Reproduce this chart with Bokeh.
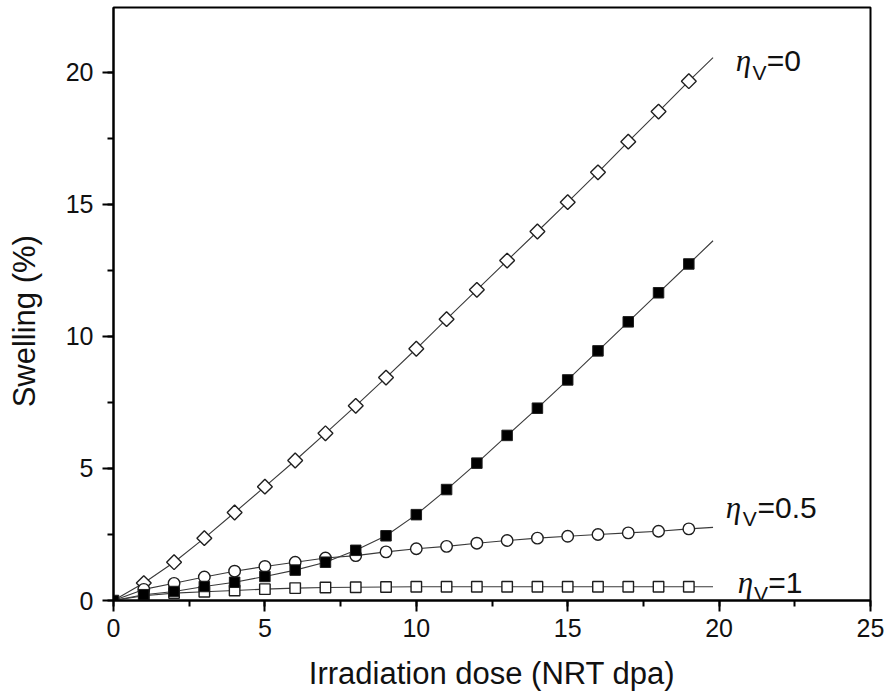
import math
from bokeh.plotting import figure
from bokeh.models import Range1d, SingleIntervalTicker, Label
from bokeh.embed import file_html
from bokeh.resources import INLINE

# ---- data ----
dose = [0, 1, 2, 3, 4, 5, 6, 7, 8, 9, 10, 11, 12, 13, 14, 15, 16, 17, 18, 19]
swell_eta0 = [0, 0.66, 1.45, 2.36, 3.33, 4.31, 5.30, 6.33, 7.37, 8.44, 9.53,
              10.65, 11.76, 12.87, 13.97, 15.08, 16.21, 17.37, 18.51, 19.66]
swell_filled = [0, 0.22, 0.34, 0.53, 0.69, 0.91, 1.15, 1.45, 1.90, 2.45, 3.25,
                4.20, 5.20, 6.25, 7.28, 8.35, 9.45, 10.55, 11.65, 12.74]
swell_eta05 = [0, 0.42, 0.65, 0.89, 1.11, 1.29, 1.45, 1.61, 1.70, 1.84, 1.96,
               2.05, 2.17, 2.27, 2.36, 2.43, 2.50, 2.56, 2.62, 2.71]
swell_eta1 = [0, 0.18, 0.28, 0.33, 0.38, 0.43, 0.47, 0.49, 0.50, 0.51, 0.52,
              0.52, 0.52, 0.52, 0.52, 0.52, 0.52, 0.52, 0.52, 0.52]
# end of the calculated curves
curve_end_dose = 19.8
curve_end = {"eta0": 20.55, "filled": 13.62, "eta05": 2.77, "eta1": 0.52}

x_label = "Irradiation dose (NRT dpa)"
y_label = "Swelling (%)"

FONT = "Liberation Sans"
LINE_C = "#3a3a3a"
EDGE_C = "#1e1e1e"

p = figure(width=888, height=698, output_backend="svg", toolbar_location=None,
           x_range=Range1d(0, 25), y_range=Range1d(0, 22.45),
           min_border_left=113, min_border_right=18, min_border_top=7,
           min_border_bottom=98, background_fill_color="white",
           border_fill_color="white")
p.xgrid.visible = False
p.ygrid.visible = False
p.outline_line_color = "black"
p.outline_line_width = 2

p.xaxis.ticker = SingleIntervalTicker(interval=5, num_minor_ticks=2)
p.yaxis.ticker = SingleIntervalTicker(interval=5, num_minor_ticks=2)
for ax in (p.xaxis[0], p.yaxis[0]):
    ax.axis_line_width = 2
    ax.axis_line_color = "black"
    ax.major_tick_line_width = 2
    ax.minor_tick_line_width = 2
    ax.major_tick_line_color = "black"
    ax.minor_tick_line_color = "black"
    ax.major_tick_in = 0
    ax.major_tick_out = 11
    ax.minor_tick_in = 0
    ax.minor_tick_out = 6
    ax.major_label_text_font = FONT
    ax.major_label_text_font_size = "25px"
    ax.major_label_text_color = "#111111"
    ax.axis_label_text_font = FONT
    ax.axis_label_text_font_size = "31px"
    ax.axis_label_text_font_style = "normal"
    ax.axis_label_text_color = "#111111"
p.xaxis.major_label_standoff = 7
p.yaxis.major_label_standoff = 9
p.xaxis.axis_label = x_label
p.xaxis.axis_label_standoff = 16
# trailing no-break spaces shift the centred title down, as in the reference
p.yaxis.axis_label = y_label + "\u00a0" * 4
p.yaxis.axis_label_standoff = 21

# curves
series = [
    (swell_eta0, curve_end["eta0"]),
    (swell_filled, curve_end["filled"]),
    (swell_eta05, curve_end["eta05"]),
    (swell_eta1, curve_end["eta1"]),
]
for ys, yend in series:
    p.line(dose + [curve_end_dose], ys + [yend], line_color=LINE_C, line_width=1.1)

# markers
p.scatter(dose[1:], swell_eta0[1:], marker="square", size=10.5, angle=math.pi / 4,
          fill_color="white", line_color=EDGE_C, line_width=1.4)
p.scatter(dose[1:], swell_eta05[1:], marker="circle", size=11.5,
          fill_color="white", line_color=EDGE_C, line_width=1.4)
p.scatter(dose[1:], swell_eta1[1:], marker="square", size=10.5,
          fill_color="white", line_color=EDGE_C, line_width=1.4)
p.scatter(dose, swell_filled, marker="square", size=10.5,
          fill_color="black", line_color=EDGE_C, line_width=1.0)

# curve annotations  eta_V = ...
def eta_label(x_eta, x_sub, x_rest, y_base, y_sub, rest):
    p.add_layout(Label(x=x_eta, y=y_base, text="η", text_font="Liberation Serif",
                       text_font_style="italic", text_font_size="31px",
                       text_baseline="alphabetic", text_align="left", text_color="#111111"))
    p.add_layout(Label(x=x_sub, y=y_sub, text="V", text_font=FONT,
                       text_font_size="21px", text_baseline="alphabetic",
                       text_align="left", text_color="#111111"))
    p.add_layout(Label(x=x_rest, y=y_base, text=rest, text_font=FONT,
                       text_font_size="30px", text_baseline="alphabetic",
                       text_align="left", text_color="#111111"))

eta_label(20.55, 21.1, 21.57, 20.44, 19.98, "=0")
eta_label(20.22, 20.78, 21.27, 3.52, 3.10, "=0.5")
eta_label(20.62, 21.15, 21.62, 0.68, 0.26, "=1")

open("out.html", "w").write(file_html(p, INLINE))
